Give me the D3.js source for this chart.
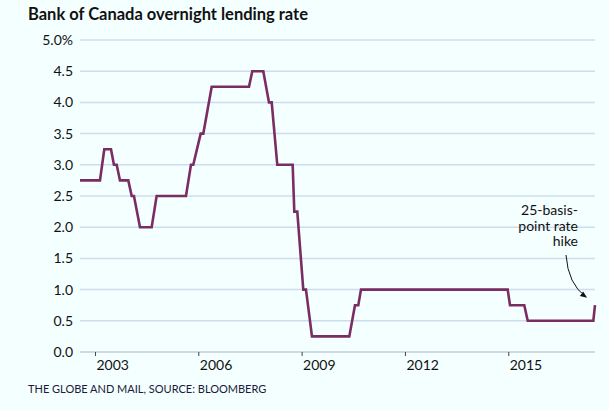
<!DOCTYPE html>
<html>
<head>
<meta charset="utf-8">
<script src="https://cdn.jsdelivr.net/npm/d3@7"></script>
<style>
  body { margin: 0; background: #f4ffff; }
  svg { display: block; font-family: "Lato", "Noto Sans", sans-serif; }
</style>
</head>
<body>
<script>
// vertices of the rate line (decimal year, percent)
let years = [2002.565, 2003.145, 2003.27, 2003.465, 2003.55, 2003.63, 2003.726, 2003.967,
    2004.066, 2004.132, 2004.307, 2004.646, 2004.79, 2005.642, 2005.787, 2005.854,
    2006.069, 2006.145, 2006.389, 2007.472, 2007.567, 2007.887, 2008.052, 2008.131,
    2008.293, 2008.740, 2008.787, 2008.874, 2009.048, 2009.126, 2009.243, 2009.30,
    2010.384, 2010.549, 2010.645, 2010.724, 2014.983, 2015.05, 2015.465, 2015.564,
    2017.469, 2017.518];
let rates = [2.75, 2.75, 3.25, 3.25, 3.0, 3.0, 2.75, 2.75,
    2.5, 2.5, 2.0, 2.0, 2.5, 2.5, 3.0, 3.0,
    3.5, 3.5, 4.25, 4.25, 4.5, 4.5, 4.0, 4.0,
    3.0, 3.0, 2.25, 2.25, 1.0, 1.0, 0.5, 0.25,
    0.25, 0.75, 0.75, 1.0, 1.0, 0.75, 0.75, 0.5,
    0.5, 0.75];

let yTicks = [0, 0.5, 1.0, 1.5, 2.0, 2.5, 3.0, 3.5, 4.0, 4.5, 5.0];
let xTicks = [2003, 2006, 2009, 2012, 2015];
let note = ["25-basis-", "point rate", "hike"];

let width = 609, height = 410;
let svg = d3.select("body").append("svg")
    .attr("width", width)
    .attr("height", height);

let x = d3.scaleLinear()
    .domain([2002.565, 2017.518])
    .range([80, 595]);

let y = d3.scaleLinear()
    .domain([0, 5])
    .range([352, 40]);

svg.append("text")
    .attr("x", 28).attr("y", 20)
    .attr("font-size", 16.5).attr("font-weight", "bold")
    .attr("fill", "#111")
    .text("Bank of Canada overnight lending rate");

// grid lines
svg.append("g")
    .selectAll("line")
    .data(yTicks.filter(d => d > 0))
    .enter()
        .append("line")
        .attr("x1", 80).attr("x2", 595)
        .attr("y1", d => y(d)).attr("y2", d => y(d))
        .attr("stroke", "#cfdcef")
        .attr("stroke-width", 1.5);

svg.append("line")
    .attr("x1", 80).attr("x2", 595)
    .attr("y1", y(0)).attr("y2", y(0))
    .attr("stroke", "#a9b3c4")
    .attr("stroke-width", 1.2);

svg.append("g")
    .selectAll("text")
    .data(yTicks)
    .enter()
        .append("text")
        .attr("x", 73)
        .attr("y", d => y(d))
        .attr("dy", "0.35em")
        .attr("text-anchor", "end")
        .attr("font-size", 14)
        .attr("fill", "#111")
        .text(d => d === 5 ? "5.0%" : d.toFixed(1));

// x axis: ticks at year start, labels centred on the year
let xAxis = d3.axisBottom(x)
    .tickValues(xTicks)
    .tickSize(4)
    .tickFormat(d => d);

let gx = svg.append("g")
    .attr("transform", `translate(0, ${y(0)})`)
    .call(xAxis);
gx.select(".domain").remove();
gx.selectAll(".tick line").attr("stroke", "#444");
gx.selectAll(".tick text")
    .attr("x", x(2003.5) - x(2003))
    .attr("y", 8)
    .attr("font-size", 14)
    .attr("font-family", "Lato, 'Noto Sans', sans-serif")
    .attr("fill", "#111");

let line = d3.line()
    .x((d, i) => x(years[i]))
    .y(d => y(d));

svg.append("path")
    .attr("d", line(rates))
    .attr("fill", "none")
    .attr("stroke", "#7a2d63")
    .attr("stroke-width", 2.6)
    .attr("stroke-linejoin", "miter");

// annotation
svg.append("g")
    .selectAll("text")
    .data(note)
    .enter()
        .append("text")
        .attr("x", 578)
        .attr("y", (d, i) => 215 + i * 15.5)
        .attr("text-anchor", "end")
        .attr("font-size", 14)
        .attr("fill", "#111")
        .text(d => d);

svg.append("defs").append("marker")
    .attr("id", "head")
    .attr("viewBox", "0 0 10 10")
    .attr("refX", 8).attr("refY", 5)
    .attr("markerWidth", 7).attr("markerHeight", 7)
    .attr("orient", "auto")
    .append("path")
    .attr("d", "M0,1 L10,5 L0,9 Z")
    .attr("fill", "#111");

svg.append("path")
    .attr("d", "M566,255 Q568,284 586,297")
    .attr("fill", "none")
    .attr("stroke", "#111")
    .attr("stroke-width", 1)
    .attr("marker-end", "url(#head)");

svg.append("text")
    .attr("x", 28).attr("y", 393)
    .attr("font-size", 11)
    .attr("fill", "#1a1a3a")
    .text("THE GLOBE AND MAIL, SOURCE: BLOOMBERG");
</script>
</body>
</html>
